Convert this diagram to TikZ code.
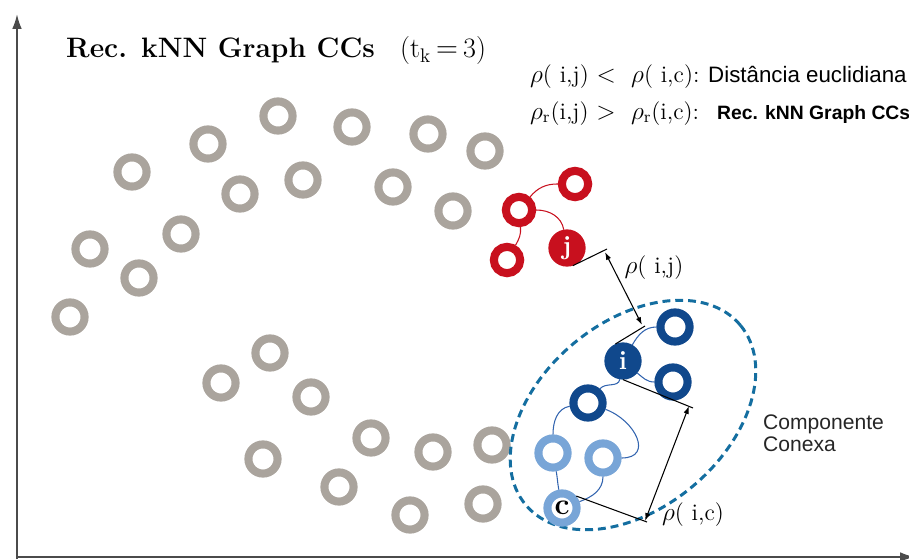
\documentclass[tikz,border=0pt]{standalone}
\usepackage{fontspec}
\setsansfont{Liberation Sans}
\usetikzlibrary{arrows.meta}

\definecolor{ringgray}{RGB}{170,164,157}
\definecolor{redring}{RGB}{200,16,30}
\definecolor{darkblue}{RGB}{16,72,140}
\definecolor{lightblue}{RGB}{120,165,215}
\definecolor{edgeblue}{RGB}{50,100,175}
\definecolor{dashblue}{RGB}{20,110,160}
\definecolor{axisgray}{RGB}{75,75,75}

\tikzset{
  ring/.style={circle,draw=#1,line width=4.6pt,minimum size=16.6pt,inner sep=0pt},
  dot/.style={ring=#1,fill=#1},
  redlink/.style={redring,line width=0.6pt},
  bluelink/.style={edgeblue,line width=0.6pt},
  tick/.style={black,line width=0.6pt},
  measure/.style={black,line width=0.6pt,{Latex[length=4.5pt,width=3pt]}-{Latex[length=4.5pt,width=3pt]}},
  axis/.style={axisgray,line width=1.1pt,-{Latex[length=8.5pt,width=5.5pt]}},
  rel/.style={font=\fontsize{13.5}{16}\selectfont},
}

\begin{document}
\begin{tikzpicture}[x=0.02cm,y=0.02cm]
\useasboundingbox (0,0) rectangle (909,559);

% axes
\coordinate (o) at (17,2);
\coordinate (ybot) at (17,0);
\coordinate (ytop) at (17,545);
\coordinate (xend) at (915,2);
\draw[axis] (ybot) -- (ytop);
\draw[axis] (o) -- (xend);

% title and relations
\node[anchor=base west,font=\fontsize{16}{19}\selectfont] (ttl) at (60,501)
  {\textbf{Rec. kNN Graph CCs}\hspace{0.9em}(t$_{\mathrm{k}}\,{=}\,$3)};
\node[rel,anchor=base west] (rel1) at (524,477) {$\rho$( i,j) $<$\ \ $\rho$( i,c):};
\node[anchor=base west,font=\sffamily\fontsize{12.7}{15}\selectfont] (euc) at (702,477) {Distância euclidiana};
\node[rel,anchor=base west] (rel2) at (524,440) {$\rho_{\mathrm{r}}$(i,j) $>$\ \ $\rho_{\mathrm{r}}$(i,c):};
\node[anchor=base west,font=\sffamily\bfseries\fontsize{11}{14}\selectfont] (rec) at (711,440) {Rec. kNN Graph CCs};

% the other points
\foreach \px/\py [count=\n] in {70/242,90/310,139/281,132/387,181/325,208/415,240/365,
    278/443,303/379,352/432,393/372,428/425,453/348,485/408,
    221/176,270/206,311/162,263/100,339/72,371/121,410/44,433/107,483/55,492/114}
  \node[ring=ringgray] (g\n) at (\px,\py) {};

% connected component
\draw[dashblue,line width=1.7pt,dash pattern=on 4.5pt off 2.8pt]
  (633,144) ellipse [x radius=2.8cm,y radius=1.86cm,rotate=40];

% red points
\node[ring=redring,minimum size=15pt] (r1) at (575,375) {};
\node[ring=redring,minimum size=15pt] (r2) at (519,349) {};
\node[ring=redring,minimum size=15pt] (r3) at (507,299) {};
\node[dot=redring,text=white,font=\bfseries\fontsize{15}{15}\selectfont] (j) at (567,311) {j};
\draw[redlink] (r2) to[bend left=25] (r1);
\draw[redlink] (r2) to[out=0,in=100] (j);
\draw[redlink] (r2) to[out=-85,in=60] (r3);

% blue points
\node[ring=darkblue] (b1) at (675,232) {};
\node[dot=darkblue,text=white,font=\bfseries\fontsize{15}{15}\selectfont] (i) at (623,198) {i};
\node[ring=darkblue] (b2) at (673,177) {};
\node[ring=darkblue] (b3) at (588,156) {};
\node[ring=lightblue] (l1) at (553,106) {};
\node[ring=lightblue] (l2) at (603,101) {};
\node[ring=lightblue,font=\bfseries\fontsize{17}{17}\selectfont] (c) at (562,51) {c};
\draw[bluelink] (i) to[out=60,in=180] (b1);
\draw[bluelink] (i) to[out=-40,in=180] (b2);
\draw[bluelink] (i) to[out=-100,in=50] (b3);
\draw[bluelink] (b3) to[out=190,in=90] (l1);
\draw[bluelink] (b3) to[out=-20,in=0,looseness=1.6] (l2);
\draw[bluelink] (l1) to[out=-80,in=100] (c);
\draw[bluelink] (l2) to[out=-90,in=20] (c);

% distances
\coordinate (t1) at (607,310);
\coordinate (t2) at (645,233);
\coordinate (t3) at (693,151);
\coordinate (t4) at (647,37);
\coordinate (a1) at (605,307);
\coordinate (a2) at (642,234);
\coordinate (a3) at (689,153);
\coordinate (a4) at (645,38);
\draw[tick] (j.-72) -- (t1);
\draw[tick] (i.114) -- (t2);
\draw[tick] (i.south) -- (t3);
\draw[tick] (c.40) -- (t4);
\draw[measure] (a1) -- (a2);
\draw[measure] (a3) -- (a4);
\node[rel] (dij) at (654,291) {$\rho$( i,j)};
\node[rel] (dic) at (693,44) {$\rho$( i,c)};
\node[anchor=west,align=left,text=black!85,font=\sffamily\fontsize{12}{12.5}\selectfont] (cc) at (757,126) {Componente\\Conexa};
\end{tikzpicture}
\end{document}
